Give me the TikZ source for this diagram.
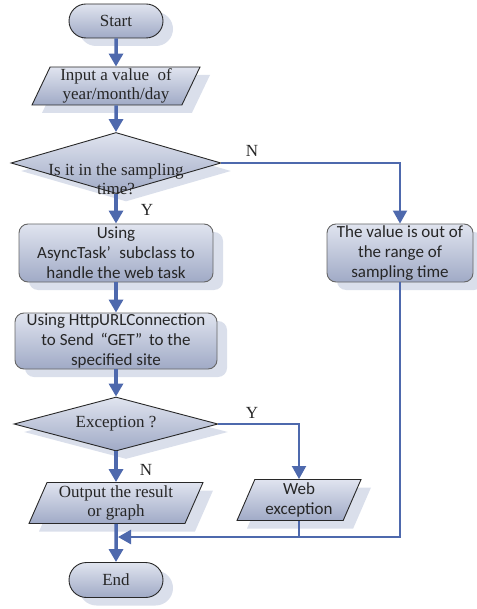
\documentclass[tikz,border=0pt]{standalone}
\usepackage{fontspec}
\setmainfont{Liberation Serif}
\newfontfamily\calfont{Carlito}
\usetikzlibrary{shapes.geometric, shapes.misc, shadows, arrows.meta}

\definecolor{flowblue}{RGB}{78,105,173}
\definecolor{boxtop}{RGB}{224,228,239}
\definecolor{boxbot}{RGB}{160,170,198}
\definecolor{shadowblue}{RGB}{218,223,235}
\definecolor{edgegray}{RGB}{40,40,40}

\begin{document}
\begin{tikzpicture}[x=1pt, y=-1pt,
  every node/.style={font=\fontsize{17}{19.5}\selectfont, text=black!85},
  shadebox/.style={draw=edgegray, line width=0.9pt, top color=boxtop, bottom color=boxbot,
    drop shadow={shadow xshift=10pt, shadow yshift=-8pt, fill=shadowblue, opacity=1}},
  term/.style={shadebox, rounded rectangle, minimum width=94pt, minimum height=34pt, inner sep=0pt},
  io/.style={shadebox, trapezium, trapezium left angle=64, trapezium right angle=116,
    trapezium stretches body, inner sep=1pt, align=center},
  dec/.style={shadebox, diamond, inner sep=0pt},
  proc/.style={shadebox, draw=black!60, rounded corners=9pt, inner sep=0.5pt, align=center,
    font=\calfont\fontsize{17}{20}\selectfont},
  mainflow/.style={draw=flowblue, line width=3.5pt, -{Triangle[width=14pt,length=13pt]}},
  sideflow/.style={draw=flowblue, line width=2pt, -{Triangle[width=14pt,length=13pt]}},
  yn/.style={inner sep=0pt}]
\useasboundingbox (0,0) rectangle (476,609);

\node[term] (start) at (116,21) {Start};
\node[io, minimum width=168pt, minimum height=38pt] (input) at (116,86) {Input a value\ \ of\\year/month/day};
\node[dec, minimum width=210pt, minimum height=61pt] (q1) at (116,163) {};
\node[inner sep=0pt, align=center] (q1txt) at (116,179) {Is it in the sampling\\time?};
\node[proc, minimum width=194pt, minimum height=58pt] (async) at (116,253) {Using\\AsyncTask’\hspace{.5em}subclass to\\handle the web task};
\node[proc, minimum width=202pt, minimum height=56pt] (http) at (116,341) {Using HttpURLConnection\\to Send\hspace{.4em}“GET”\hspace{.4em}to the\\specified site};
\node[proc, minimum width=146pt, minimum height=58pt] (outside) at (400,253) {The value is out of\\the range of\\sampling time};
\node[dec, minimum width=204pt, minimum height=54pt] (q2) at (116,424) {};
\node[inner sep=0pt] (q2txt) at (116,424) {Exception ?};
\node[io, minimum width=174pt, minimum height=41pt] (output) at (116,503) {Output the result\\or graph};
\node[io, font=\calfont\fontsize{17}{20}\selectfont, minimum width=124pt, minimum height=41pt] (webex) at (299,500) {Web\\exception};
\node[term, minimum height=35pt] (end) at (116,580) {End};

\node[yn] (n1) at (252,151) {N};
\node[yn] (y1) at (147,210) {Y};
\node[yn] (y2) at (252,413) {Y};
\node[yn] (n2) at (146,470) {N};

\coordinate (join) at (118,537);

\draw[mainflow] (start) -- (input);
\draw[mainflow] (input) -- (q1);
\draw[mainflow] (q1) -- (async);
\draw[mainflow] (async) -- (http);
\draw[mainflow] (http) -- (q2);
\draw[mainflow] (q2) -- (output);
\draw[mainflow] (output) -- (end);
\draw[sideflow] (q1.east) -| (outside.north);
\draw[sideflow] (q2.east) -| (webex.north);
\draw[sideflow, line width=2.5pt] (outside.south) |- (join);
\draw[flowblue, line width=2pt] (webex.south) -- (webex.south |- join);
\end{tikzpicture}
\end{document}
